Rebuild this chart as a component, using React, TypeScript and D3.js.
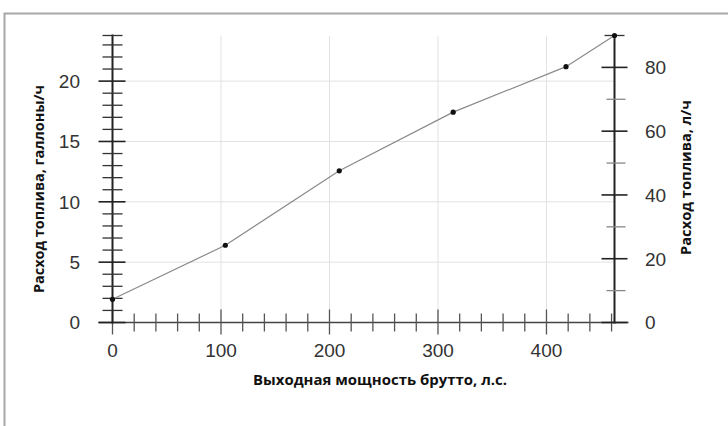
import React from "react";
import * as d3 from "d3";

const powerHp = [0, 104, 209, 314, 418, 462.7];
const fuelGal = [1.92, 6.4, 12.57, 17.43, 21.2, 23.78];
const xTicks = [0, 100, 200, 300, 400];
const leftTicks = [0, 5, 10, 15, 20];
const rightTicks = [0, 20, 40, 60, 80];
const xTitle = "Выходная мощность брутто, л.с.";
const leftTitle = "Расход топлива, галлоны/ч";
const rightTitle = "Расход топлива, л/ч";

export default function App() {
  const W = 728, H = 426;
  const x = d3.scaleLinear().domain([0, 462.7]).range([112.5, 614.5]);
  const yL = d3.scaleLinear().domain([0, 23.78]).range([322.5, 35.5]);
  const yR = d3.scaleLinear().domain([0, 90]).range([322.5, 35.5]);
  const line = d3.line<number>().x((_, i) => x(powerHp[i])).y((d) => yL(d));
  const xMinor = d3.range(0, 462, 20).filter((v) => v % 100 !== 0);
  const lMinor = d3.range(1, 24, 1).filter((v) => v % 5 !== 0);
  const rMinor = [10, 30, 50, 70];
  const x0 = x(0), xr = x(462.7), y0 = yL(0), yTop = yL(23.78);
  const tickFont = "'Liberation Sans', Arial, sans-serif";
  const titleFont = "'Open Sans', 'Noto Sans', sans-serif";
  return (
    <svg width={W} height={H} style={{ position: "absolute", left: 0, top: 0 }}>
      <rect x={0} y={0} width={W} height={H} fill="#fff" />
      <path d={`M4.5,${H} V13.5 H${W}`} fill="none" stroke="#a8a8a8" strokeWidth={2} />
      {/* grid */}
      {xTicks.filter((v) => v > 0).map((v) => (
        <line key={"gx" + v} x1={x(v)} x2={x(v)} y1={yTop} y2={y0} stroke="#e2e2e2" strokeWidth={1} />
      ))}
      {leftTicks.filter((v) => v > 0).map((v) => (
        <line key={"gy" + v} x1={x0} x2={xr} y1={yL(v)} y2={yL(v)} stroke="#e2e2e2" strokeWidth={1} />
      ))}
      {/* x axis */}
      <line x1={x0 - 14} x2={xr + 14} y1={y0} y2={y0} stroke="#444" strokeWidth={1.5} />
      {xMinor.map((v) => (
        <line key={"xm" + v} x1={x(v)} x2={x(v)} y1={y0 - 9} y2={y0 + 9} stroke="#555" strokeWidth={1.3} />
      ))}
      {xTicks.map((v) => (
        <line key={"xM" + v} x1={x(v)} x2={x(v)} y1={y0 - 13} y2={y0 + 12} stroke="#555" strokeWidth={1.3} />
      ))}
      {xTicks.map((v) => (
        <text key={"xl" + v} x={x(v)} y={357} textAnchor="middle" fontFamily={tickFont} fontSize={19} fill="#333">{v}</text>
      ))}
      {/* left axis */}
      <line x1={x0} x2={x0} y1={yTop - 1} y2={y0 + 1} stroke="#222" strokeWidth={2} />
      {lMinor.map((v) => (
        <line key={"lm" + v} x1={x0 - 10} x2={x0 + 10} y1={yL(v)} y2={yL(v)} stroke="#333" strokeWidth={1.3} />
      ))}
      <line x1={x0 - 10} x2={x0 + 10} y1={yTop} y2={yTop} stroke="#333" strokeWidth={1.3} />
      {leftTicks.map((v) => (
        <line key={"lM" + v} x1={x0 - 14} x2={x0 + 13} y1={yL(v)} y2={yL(v)} stroke="#222" strokeWidth={1.6} />
      ))}
      {leftTicks.map((v) => (
        <text key={"ll" + v} x={80} y={yL(v)} dy="0.36em" textAnchor="end" fontFamily={tickFont} fontSize={19} fill="#333">{v}</text>
      ))}
      {/* right axis */}
      <line x1={xr} x2={xr} y1={yTop - 1} y2={y0 + 1} stroke="#222" strokeWidth={2} />
      {rMinor.map((v) => (
        <line key={"rm" + v} x1={xr - 8} x2={xr + 11} y1={yR(v)} y2={yR(v)} stroke="#888" strokeWidth={1.3} />
      ))}
      <line x1={xr - 10} x2={xr + 10} y1={yTop} y2={yTop} stroke="#333" strokeWidth={1.3} />
      {rightTicks.map((v) => (
        <line key={"rM" + v} x1={xr - 13} x2={xr + 13} y1={yR(v)} y2={yR(v)} stroke="#222" strokeWidth={1.6} />
      ))}
      {rightTicks.map((v) => (
        <text key={"rl" + v} x={645} y={yR(v)} dy="0.36em" textAnchor="start" fontFamily={tickFont} fontSize={19} fill="#333">{v}</text>
      ))}
      {/* data */}
      <path d={line(fuelGal) || ""} fill="none" stroke="#8a8a8a" strokeWidth={1.2} />
      {fuelGal.map((v, i) => (
        <circle key={"p" + i} cx={x(powerHp[i])} cy={yL(v)} r={2.6} fill="#111" />
      ))}
      {/* titles */}
      <text x={380} y={385} textAnchor="middle" fontFamily={titleFont} fontWeight="bold" fontSize={15} fill="#111" textLength={254} lengthAdjust="spacingAndGlyphs">{xTitle}</text>
      <text transform="translate(44,189) rotate(-90)" textAnchor="middle" fontFamily={titleFont} fontWeight="bold" fontSize={15} fill="#111" textLength={208} lengthAdjust="spacingAndGlyphs">{leftTitle}</text>
      <text transform="translate(691,177.5) rotate(-90)" textAnchor="middle" fontFamily={titleFont} fontWeight="bold" fontSize={15} fill="#111" textLength={155} lengthAdjust="spacingAndGlyphs">{rightTitle}</text>
    </svg>
  );
}
